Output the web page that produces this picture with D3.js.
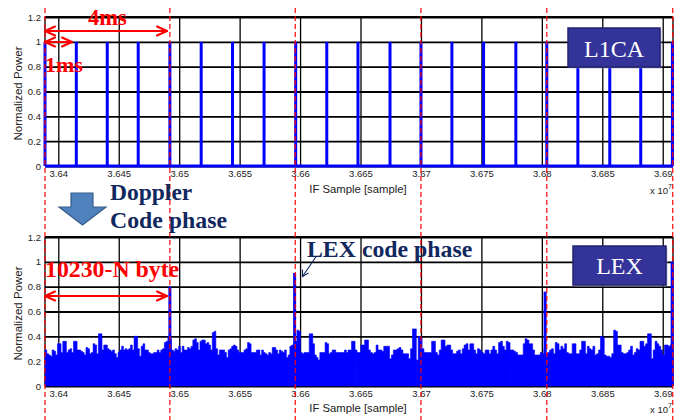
<!DOCTYPE html>
<html><head><meta charset="utf-8">
<script src="https://cdn.jsdelivr.net/npm/d3@7/dist/d3.min.js"></script>
<style>body{margin:0;background:#fff} svg{display:block}</style>
</head><body>
<svg id="c" width="681" height="420"></svg>
<script>
// ---- data (IF sample axis in units of 1e7 samples) ----
const xDomain = [3.63890, 3.69085];
const xTicks = [3.64, 3.645, 3.65, 3.655, 3.66, 3.665, 3.67, 3.675, 3.68, 3.685, 3.69];
const xTickLabels = ["3.64","3.645","3.65","3.655","3.66","3.665","3.67","3.675","3.68","3.685","3.69"];
const yTicks = [0, 0.2, 0.4, 0.6, 0.8, 1, 1.2];
const yTickLabels = ["0","0.2","0.4","0.6","0.8","1","1.2"];

// L1CA correlation peaks (1 ms apart), normalized power 1
const l1caPeaks = [3.63890, 3.64149, 3.64405, 3.64661, 3.64923, 3.65182, 3.65441, 3.65702,
  3.65964, 3.66221, 3.66479, 3.66744, 3.67000, 3.67256, 3.67518, 3.67785, 3.68041,
  3.68298, 3.68562, 3.68818, 3.69080];
const l1caPower = [1,1,1,1,1,1,1,1,1,1,1,1,1,1,1,1,1,1,1,1,1];

// 4 ms boundaries (red dashed)
const msMarks = [3.63890, 3.64923, 3.65960, 3.67000, 3.68041, 3.69083];

// LEX peaks
const lexPeaks = [3.64923, 3.65955, 3.68027, 3.69078];
const lexPeakPower = [0.80, 0.91, 0.76, 1.00];

// LEX noise floor (envelope), four consecutive spans
const lexNoiseSpans = [[3.63890, 3.65172], [3.65172, 3.66455], [3.66455, 3.67737], [3.67737, 3.69077]];
const lexNoise1 = [0.29,0.26,0.25,0.24,0.29,0.28,0.25,0.34,0.34,0.27,
  0.36,0.36,0.27,0.29,0.30,0.27,0.36,0.36,0.29,0.29,
  0.28,0.27,0.25,0.31,0.30,0.26,0.27,0.34,0.33,0.26,
  0.42,0.42,0.29,0.33,0.33,0.30,0.29,0.28,0.29,0.26,
  0.23,0.27,0.29,0.32,0.29,0.30,0.29,0.30,0.33,0.29,
  0.40,0.40,0.30,0.24,0.32,0.34,0.29,0.29,0.27,0.26,
  0.26,0.27,0.27,0.29,0.27,0.29,0.30,0.35,0.36,0.40,
  0.38,0.29,0.28,0.30,0.29,0.32,0.27,0.32,0.29,0.29,
  0.31,0.30,0.32,0.37,0.38,0.35,0.29];
const lexNoise2 = [0.36,0.37,0.37,0.34,0.35,0.33,0.29,0.43,0.44,0.30,
  0.25,0.29,0.29,0.29,0.27,0.23,0.29,0.30,0.32,0.33,
  0.32,0.29,0.27,0.27,0.27,0.29,0.30,0.35,0.34,0.27,
  0.27,0.27,0.29,0.29,0.25,0.29,0.27,0.26,0.25,0.27,
  0.26,0.31,0.31,0.29,0.26,0.29,0.28,0.27,0.29,0.23,
  0.25,0.32,0.33,0.33,0.36,0.45,0.44,0.27,0.26,0.27,
  0.27,0.27,0.42,0.42,0.34,0.25,0.23,0.21,0.27,0.27,
  0.27,0.35,0.34,0.26,0.27,0.29,0.29,0.27,0.27,0.27,
  0.27,0.27,0.29,0.27,0.29,0.29,0.36,0.36];
const lexNoise3 = [0.29,0.27,0.27,0.33,0.33,0.37,0.37,0.29,0.27,0.26,
  0.27,0.33,0.29,0.29,0.28,0.32,0.32,0.32,0.22,0.25,
  0.29,0.29,0.30,0.31,0.29,0.26,0.26,0.26,0.22,0.30,
  0.46,0.46,0.21,0.40,0.39,0.30,0.27,0.27,0.27,0.27,
  0.36,0.36,0.27,0.25,0.29,0.37,0.37,0.32,0.33,0.33,
  0.29,0.26,0.26,0.28,0.29,0.26,0.30,0.33,0.34,0.29,
  0.34,0.34,0.29,0.26,0.30,0.29,0.27,0.26,0.29,0.29,
  0.26,0.29,0.32,0.29,0.26,0.35,0.36,0.32,0.29,0.36,
  0.35];
const lexNoise4 = [0.29,0.29,0.28,0.27,0.25,0.25,0.25,0.34,0.38,0.37,
  0.34,0.34,0.29,0.25,0.25,0.25,0.27,0.26,0.30,0.26,
  0.27,0.29,0.30,0.26,0.35,0.34,0.29,0.32,0.30,0.34,
  0.27,0.26,0.26,0.34,0.34,0.26,0.26,0.29,0.36,0.36,
  0.26,0.32,0.30,0.29,0.32,0.25,0.26,0.29,0.40,0.39,
  0.25,0.24,0.24,0.23,0.26,0.45,0.44,0.33,0.33,0.27,
  0.26,0.26,0.27,0.29,0.32,0.25,0.27,0.30,0.29,0.36,
  0.36,0.32,0.34,0.42,0.42,0.22,0.29,0.36,0.34,0.32,
  0.29,0.25,0.33,0.33,0.32,0.33];
const lexNoise = [lexNoise1, lexNoise2, lexNoise3, lexNoise4];

// ---- drawing ----
const svg = d3.select("#c");
const BLUE = "#0000ff", RED = "#ff0000", NAVY = "#10285e";
const x = d3.scaleLinear().domain(xDomain).range([45, 673]);
const yTop = d3.scaleLinear().domain([0, 1.2]).range([166, 17]);
const yBot = d3.scaleLinear().domain([0, 1.2]).range([386, 237]);
const AX_FONT = "'Liberation Sans', Arial, sans-serif";
const SERIF = "'Liberation Serif', 'Times New Roman', serif";

function panel(y, xlabelBase) {
  const g = svg.append("g");
  const [x0, x1] = x.range();
  const [yb, yt] = y.range();
  const ya = g.append("g").attr("transform", `translate(${x0},0)`)
    .call(d3.axisLeft(y).tickValues(yTicks).tickFormat((d, i) => yTickLabels[i])
      .tickSize(-(x1 - x0)).tickPadding(4));
  ya.select(".domain").remove();
  ya.selectAll("line").attr("stroke", "#000").attr("stroke-width", 1.8);
  ya.selectAll("text").attr("font-family", AX_FONT).attr("font-size", 9.5).attr("fill", "#222");
  const xa = g.append("g").attr("transform", `translate(0,${yb})`)
    .call(d3.axisBottom(x).tickValues(xTicks).tickFormat((d, i) => xTickLabels[i])
      .tickSize(-(yb - yt)).tickPadding(4));
  xa.select(".domain").remove();
  xa.selectAll("line").attr("stroke", "#000").attr("stroke-width", 1.3);
  xa.selectAll("text").attr("font-family", AX_FONT).attr("font-size", 9.5).attr("fill", "#222");
  g.append("line").attr("x1", x0).attr("x2", x1).attr("y1", yt).attr("y2", yt).attr("stroke", "#000").attr("stroke-width", 2.2);
  g.append("line").attr("x1", x0).attr("x2", x0).attr("y1", yt).attr("y2", yb).attr("stroke", "#000").attr("stroke-width", 1.3);
  g.append("line").attr("x1", x1).attr("x2", x1).attr("y1", yt).attr("y2", yb).attr("stroke", "#000").attr("stroke-width", 1.3);
  g.append("text").attr("transform", `translate(22,${(yt + yb) / 2 + 2}) rotate(-90)`)
    .attr("text-anchor", "middle").attr("font-family", AX_FONT).attr("font-size", 11.5)
    .attr("fill", "#222").text("Normalized Power");
  g.append("text").attr("x", (x0 + x1) / 2 - 1).attr("y", xlabelBase).attr("text-anchor", "middle")
    .attr("font-family", AX_FONT).attr("font-size", 11.3).attr("fill", "#222").text("IF Sample [sample]");
  const ex = g.append("text").attr("x", 650).attr("y", xlabelBase + 1)
    .attr("font-family", AX_FONT).attr("font-size", 9.5).attr("fill", "#222");
  ex.append("tspan").text("x 10");
  ex.append("tspan").attr("dy", -5).attr("font-size", 7).text("7");
  return g;
}

panel(yTop, 193);
panel(yBot, 412);

// L1CA trace
const gT = svg.append("g");
gT.append("line").attr("x1", x(xDomain[0])).attr("x2", x(xDomain[1]))
  .attr("y1", yTop(0)).attr("y2", yTop(0)).attr("stroke", BLUE).attr("stroke-width", 3);
gT.selectAll(".pk").data(l1caPeaks).join("line")
  .attr("x1", d => x(d)).attr("x2", d => x(d))
  .attr("y1", yTop(0)).attr("y2", (d, i) => yTop(l1caPower[i]))
  .attr("stroke", BLUE).attr("stroke-width", 3);

// LEX trace
const gB = svg.append("g");
lexNoise.forEach((vals, s) => {
  const [a, b] = lexNoiseSpans[s];
  const step = (b - a) / vals.length;
  const pts = vals.map((v, i) => [a + i * step, v]);
  pts.push([b, vals[vals.length - 1]]);
  const area = d3.area().curve(d3.curveStepAfter)
    .x(d => x(d[0])).y0(yBot(0)).y1(d => yBot(d[1]));
  gB.append("path").datum(pts).attr("d", area).attr("fill", BLUE)
    .attr("stroke", BLUE).attr("stroke-width", 0.6);
});
gB.selectAll(".lp").data(lexPeaks).join("line")
  .attr("x1", d => x(d)).attr("x2", d => x(d))
  .attr("y1", yBot(0)).attr("y2", (d, i) => yBot(lexPeakPower[i]))
  .attr("stroke", BLUE).attr("stroke-width", 3);

// red dashed 4 ms marks
svg.append("g").selectAll("line").data(msMarks).join("line")
  .attr("x1", d => x(d)).attr("x2", d => x(d)).attr("y1", 8).attr("y2", 420)
  .attr("stroke", RED).attr("stroke-width", 1.2).attr("stroke-dasharray", "5,3");

// ---- annotations ----
function dblArrow(x1, x2, y, color, w) {
  const g = svg.append("g").attr("stroke", color).attr("stroke-width", w).attr("fill", "none")
    .attr("stroke-linecap", "round").attr("stroke-linejoin", "round");
  g.append("line").attr("x1", x1).attr("x2", x2).attr("y1", y).attr("y2", y);
  g.append("path").attr("d", `M${x1 + 10},${y - 4.5} L${x1},${y} L${x1 + 10},${y + 4.5}`);
  g.append("path").attr("d", `M${x2 - 10},${y - 4.5} L${x2},${y} L${x2 - 10},${y + 4.5}`);
}
function label(t, xx, yy, size, color, weight, anchor) {
  svg.append("text").attr("x", xx).attr("y", yy).attr("font-family", SERIF)
    .attr("font-size", size).attr("font-weight", weight || "bold").attr("fill", color)
    .attr("text-anchor", anchor || "start").text(t);
}
dblArrow(45, 167, 31, RED, 2);
dblArrow(45, 72, 42, RED, 2);
label("4ms", 88, 25, 22.5, RED);
label("1ms", 45, 72, 22, RED);

dblArrow(45, 167, 296, RED, 2);
label("10230-N byte", 45, 277, 23.8, RED);

function tagBox(x0, y0, w, h, t, base) {
  svg.append("rect").attr("x", x0 + 1.5).attr("y", y0 + 1.5).attr("width", w).attr("height", h).attr("fill", "#9a9acb").attr("opacity", 0.6);
  svg.append("rect").attr("x", x0).attr("y", y0).attr("width", w).attr("height", h)
    .attr("fill", "#333399").attr("stroke", "#25256f").attr("stroke-width", 1.5);
  svg.append("text").attr("x", x0 + w / 2).attr("y", base).attr("text-anchor", "middle")
    .attr("font-family", SERIF).attr("font-size", 24).attr("fill", "#fff").text(t);
}
tagBox(568, 28, 92, 39, "L1CA", 56.5);
tagBox(573, 246, 93, 39, "LEX", 273.5);

svg.append("path")
  .attr("d", "M71,193 L93,193 L93,207 L106,207 L82.5,225 L59,207 L71,207 Z")
  .attr("fill", "#4f81bd").attr("stroke", "#385d8a").attr("stroke-width", 1.2);
label("Doppler", 110, 200, 23.5, NAVY);
label("Code phase", 110, 227.5, 23.8, NAVY);

label("LEX code phase", 307, 256.5, 23.8, NAVY);
const ag = svg.append("g").attr("stroke", NAVY).attr("stroke-width", 1.1).attr("fill", "none");
ag.append("line").attr("x1", 316.5).attr("y1", 256).attr("x2", 302.5).attr("y2", 276.5);
ag.append("path").attr("d", "M302.5,269.5 L302.5,276.5 L308.5,273");
</script>
</body></html>
